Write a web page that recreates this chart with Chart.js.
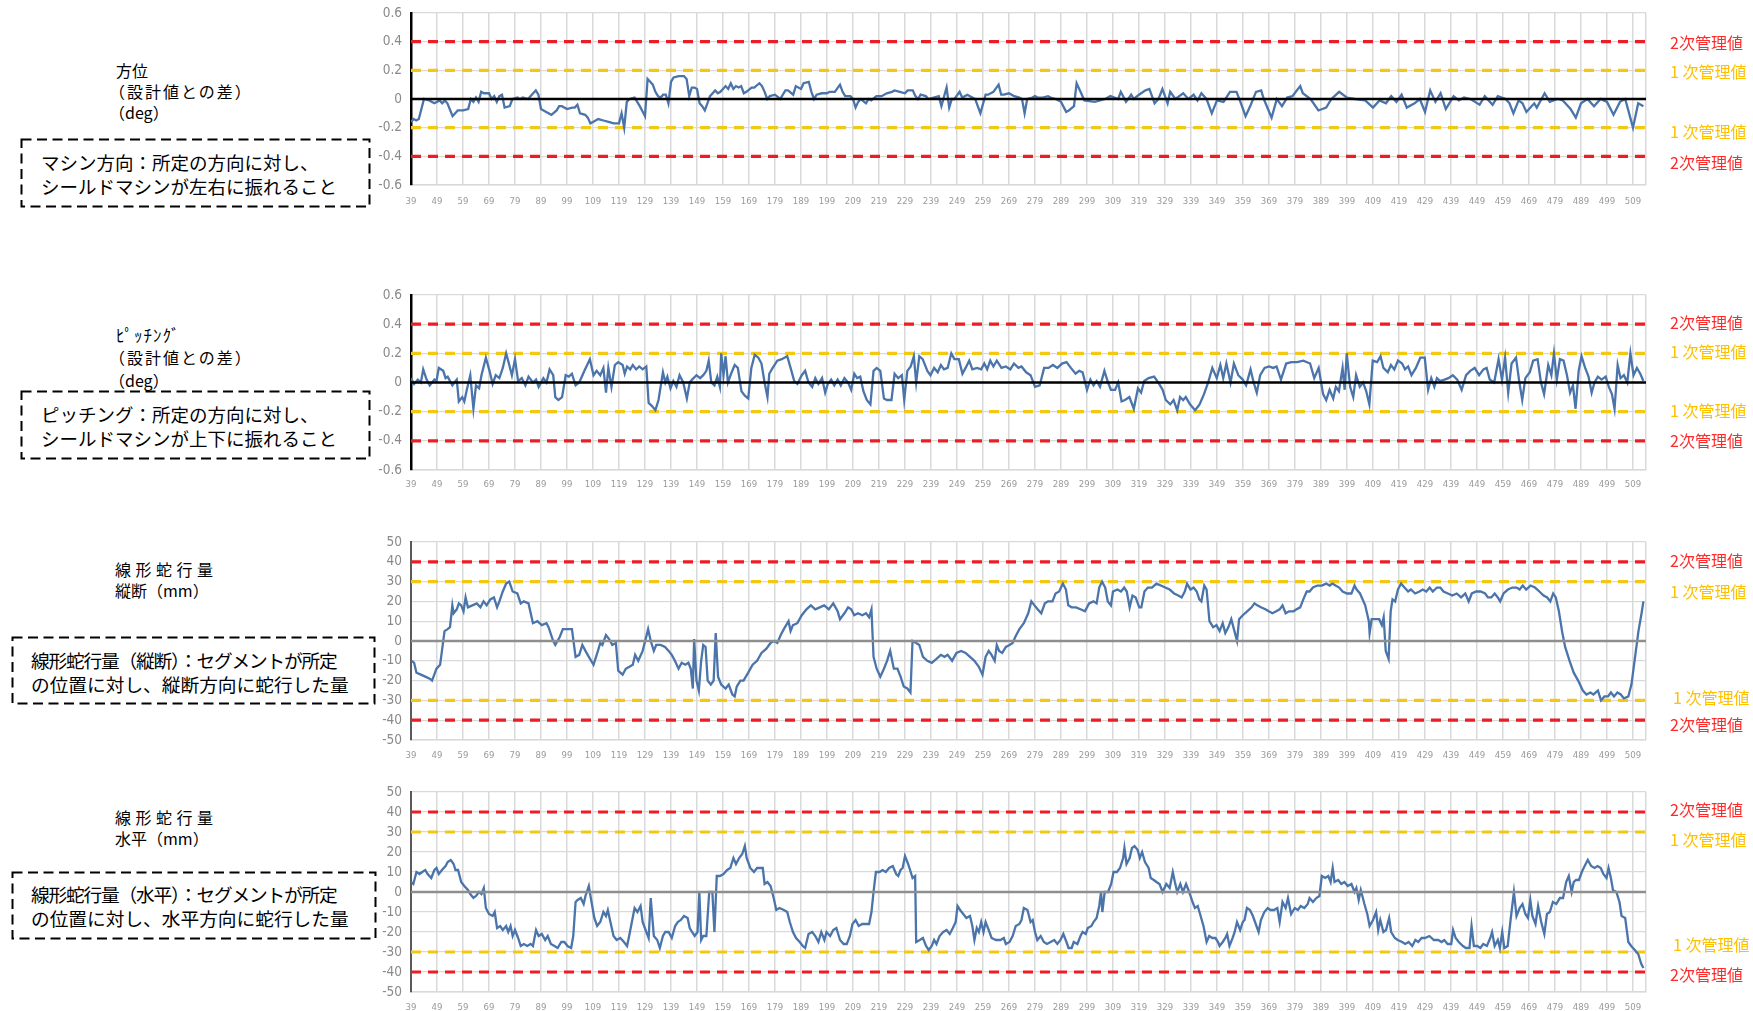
<!DOCTYPE html>
<html><head><meta charset="utf-8">
<script src="https://cdn.jsdelivr.net/npm/chart.js@4.4.0/dist/chart.umd.min.js"></script>
<style>
html,body{margin:0;padding:0;background:#fff;}
body{width:1753px;height:1011px;position:relative;overflow:hidden;font-family:"Noto Sans CJK JP","Noto Sans",sans-serif;color:#000;}
canvas{position:absolute;}
.t{position:absolute;white-space:nowrap;font-size:16px;line-height:20px;height:20px;}
.bx{position:absolute;}
.bt{position:absolute;white-space:nowrap;line-height:24px;height:24px;}
</style></head><body>

<!-- left captions -->
<div class="t" style="left:116px;top:60px;">方位</div>
<div class="t" style="left:109px;top:81px;letter-spacing:2px;">（設計値との差）</div>
<div class="t" style="left:109px;top:102px;">（deg）</div>
<svg class="bx" style="left:20px;top:138px" width="352" height="71"><rect x="1.5" y="1.5" width="348" height="67" fill="none" stroke="#000" stroke-width="2" stroke-dasharray="10,5.5"/></svg>
<div class="bt" style="left:41px;top:150px;font-size:18.5px;">マシン方向：所定の方向に対し、</div>
<div class="bt" style="left:41px;top:174px;font-size:18.5px;">シールドマシンが左右に振れること</div>

<div class="t" style="left:116px;top:325px;font-size:17px;letter-spacing:1px;">ﾋﾟｯﾁﾝｸﾞ</div>
<div class="t" style="left:109px;top:347px;letter-spacing:2px;">（設計値との差）</div>
<div class="t" style="left:109px;top:370px;">（deg）</div>
<svg class="bx" style="left:20px;top:390px" width="352" height="71"><rect x="1.5" y="1.5" width="348" height="67" fill="none" stroke="#000" stroke-width="2" stroke-dasharray="10,5.5"/></svg>
<div class="bt" style="left:41px;top:402px;font-size:18.5px;">ピッチング：所定の方向に対し、</div>
<div class="bt" style="left:41px;top:426px;font-size:18.5px;">シールドマシンが上下に振れること</div>

<div class="t" style="left:115px;top:559px;letter-spacing:4.5px;">線形蛇行量</div>
<div class="t" style="left:115px;top:580px;">縦断（mm）</div>
<svg class="bx" style="left:11px;top:636px" width="366" height="70"><rect x="1.5" y="1.5" width="362" height="66" fill="none" stroke="#000" stroke-width="2" stroke-dasharray="10,5.5"/></svg>
<div class="bt" style="left:31px;top:648px;font-size:18.7px;letter-spacing:-1.2px;">線形蛇行量（縦断）：セグメントが所定</div>
<div class="bt" style="left:31px;top:672px;font-size:18.7px;">の位置に対し、縦断方向に蛇行した量</div>

<div class="t" style="left:115px;top:807px;letter-spacing:4.5px;">線形蛇行量</div>
<div class="t" style="left:115px;top:828px;">水平（mm）</div>
<svg class="bx" style="left:11px;top:871px" width="367" height="70"><rect x="1.5" y="1.5" width="363" height="66" fill="none" stroke="#000" stroke-width="2" stroke-dasharray="10,5.5"/></svg>
<div class="bt" style="left:31px;top:882px;font-size:18.7px;letter-spacing:-1.2px;">線形蛇行量（水平）：セグメントが所定</div>
<div class="bt" style="left:31px;top:906px;font-size:18.7px;">の位置に対し、水平方向に蛇行した量</div>

<canvas id="c0"></canvas><canvas id="c1"></canvas><canvas id="c2"></canvas><canvas id="c3"></canvas>

<script>
// ---------------- data ----------------
const ringTicks = [39,49,59,69,79,89,99,109,119,129,139,149,159,169,179,189,199,209,219,229,239,249,259,269,279,289,299,309,319,329,339,349,359,369,379,389,399,409,419,429,439,449,459,469,479,489,499,509];
const ringRange = [39, 514];
const angleAxis = [-0.6, 0.6, 0.2];
const mmAxis = [-50, 50, 10];
const angleLimits = [0.4, 0.2];   // 2次, 1次
const mmLimits = [40, 30];
const limitNames = ['2次管理値', '1 次管理値'];

// 方位（設計値との差）deg : [ring, value]
const azimuthData = [[39,-0.16],[40,-0.14],[41,-0.15],[42,-0.14],[44,0.0],[46,-0.01],[48,-0.03],[50,-0.01],[51,-0.03],[52,-0.01],[53,-0.03],[55,-0.12],[56,-0.10],[57,-0.08],[59,-0.08],[61,-0.07],[62,0.0],[63,-0.02],[64,0.01],[65,-0.02],[66,0.05],[67,0.04],[69,0.04],[70,0.0],[71,0.02],[72,-0.02],[73,0.02],[74,0.03],[75,-0.06],[77,-0.05],[78,0.0],[80,0.01],[81,0.0],[82,0.01],[84,0.0],[86,0.04],[87,0.06],[88,0.03],[89,-0.07],[91,-0.09],[93,-0.11],[95,-0.08],[96,-0.05],[97,-0.05],[99,-0.07],[101,-0.06],[102,-0.06],[103,-0.04],[104,-0.10],[106,-0.11],[107,-0.13],[108,-0.17],[109,-0.16],[111,-0.14],[113,-0.15],[115,-0.16],[117,-0.17],[119,-0.17],[120,-0.10],[121,-0.20],[122,-0.02],[123,0.0],[125,0.01],[126,-0.02],[127,-0.05],[129,-0.12],[130,0.14],[131,0.12],[132,0.10],[133,0.05],[134,0.02],[135,0.01],[136,0.03],[137,0.03],[138,-0.03],[139,0.12],[140,0.15],[142,0.16],[144,0.16],[145,0.14],[146,0.02],[147,0.08],[148,0.08],[149,0.07],[150,-0.03],[151,-0.05],[152,-0.08],[153,-0.03],[154,0.02],[156,0.06],[157,0.04],[158,0.05],[160,0.09],[161,0.07],[162,0.11],[163,0.07],[164,0.09],[165,0.08],[166,0.09],[167,0.04],[168,0.05],[170,0.08],[171,0.08],[173,0.11],[174,0.09],[175,0.05],[176,0.0],[177,0.02],[179,0.03],[181,0.0],[183,0.06],[184,0.06],[186,0.03],[187,0.09],[189,0.07],[190,0.11],[192,0.12],[193,0.05],[194,0.0],[195,0.03],[197,0.04],[199,0.04],[200,0.05],[202,0.05],[204,0.10],[205,0.05],[206,0.02],[208,0.02],[209,0.0],[210,-0.06],[211,-0.02],[212,0.0],[214,-0.03],[215,0.0],[216,-0.01],[218,0.02],[220,0.02],[222,0.04],[224,0.05],[225,0.06],[227,0.05],[229,0.04],[230,0.06],[232,0.06],[233,0.02],[234,0.0],[235,0.03],[237,0.02],[238,0.0],[240,0.01],[242,0.02],[243,-0.05],[245,0.08],[246,-0.06],[247,0.0],[248,0.0],[250,0.05],[251,0.01],[253,0.03],[254,0.02],[256,0.0],[258,-0.10],[260,0.03],[261,0.03],[263,0.05],[265,0.10],[266,0.03],[267,0.03],[269,0.04],[271,0.02],[273,0.01],[274,0.0],[275,-0.10],[276,0.0],[278,0.01],[279,0.02],[280,0.01],[282,0.01],[284,0.02],[285,0.01],[287,0.0],[289,-0.02],[291,-0.09],[292,-0.08],[294,-0.05],[295,0.11],[296.5,0.05],[298,-0.01],[302,-0.02],[306,0.0],[308,0.02],[311,0.0],[312,0.05],[314,-0.02],[316,0.03],[317,0.0],[319,0.03],[321.5,0.06],[323,0.07],[325,-0.03],[326.5,0.0],[328,0.07],[330,-0.03],[331,0.05],[333,0.0],[336,0.04],[338,0.0],[340,0.03],[341.5,-0.01],[343,0.04],[345,0.0],[347,-0.10],[349,-0.01],[351.5,-0.02],[354,0.05],[356.5,0.05],[358,-0.02],[360,-0.12],[362,-0.04],[364,0.05],[366,0.06],[367,0.0],[370,-0.13],[372,0.0],[374,-0.05],[376,0.01],[378,0.02],[381,0.09],[382,0.04],[385,0.0],[388,-0.08],[391,-0.06],[393,0.0],[396,0.05],[399,0.01],[402,0.0],[406,-0.01],[409,-0.06],[411.5,-0.01],[414,-0.03],[416,0.02],[418,-0.02],[420,0.03],[422,-0.06],[425,-0.03],[427,0.0],[429,-0.09],[431,0.06],[433,-0.02],[435,0.04],[437,-0.07],[440,0.02],[442,-0.01],[444,0.01],[446.5,0.0],[450,-0.04],[452,0.02],[455,-0.04],[457,0.02],[460,0.0],[461.5,-0.03],[463,-0.10],[465,-0.01],[466.5,-0.03],[468,-0.09],[471,-0.03],[472,-0.06],[475,0.04],[477,-0.02],[480,0.0],[482,-0.01],[485,-0.07],[487,-0.13],[489,-0.03],[491.5,0.0],[494,-0.05],[496.5,0.0],[499,-0.02],[501.5,-0.11],[504,-0.02],[506,0.0],[509,-0.20],[511,-0.03],[513,-0.05]];

// ピッチング（設計値との差）deg
const pitchData = [[39,0.03],[40.2,-0.01],[41.6,0.02],[42.8,0.0],[43.7,0.09],[45,0.02],[46.2,-0.02],[48,0.02],[48.8,0.01],[49.7,0.1],[51.4,0.08],[52.3,0.03],[53.1,0.04],[54.9,-0.02],[55.7,0.0],[56.6,0.02],[57.4,-0.13],[58.7,-0.1],[59.5,-0.13],[60.6,-0.04],[61.8,0.05],[63,-0.18],[64,-0.02],[65.2,-0.04],[66.1,0.05],[67.8,0.17],[69.2,0.08],[70.4,-0.01],[71.6,0.05],[73,0.03],[74.3,0.1],[75.6,0.2],[76.8,0.12],[77.8,0.05],[79,0.16],[80.2,0.01],[81.6,0.03],[83,-0.02],[84.2,0.04],[85.9,0.0],[87.1,0.02],[88.1,-0.03],[89.9,0.03],[91.1,0.0],[92.3,0.09],[93.7,0.05],[94.5,-0.1],[95.7,-0.12],[97.1,-0.1],[98.5,0.05],[99.7,0.04],[100.9,0.06],[102.3,-0.02],[103.7,0.0],[105.7,0.08],[107.8,0.16],[109.2,0.05],[110.4,0.08],[111.8,0.05],[113,0.1],[114,-0.07],[114.9,0.1],[116.1,-0.03],[117.4,0.12],[118.7,0.14],[120.4,0.12],[121.2,0.06],[122.1,0.11],[123.3,0.09],[124.3,0.12],[125.6,0.09],[126.8,0.11],[128.1,0.09],[129.5,0.11],[130.4,-0.14],[131.6,-0.16],[133,-0.19],[134.2,-0.12],[135.9,0.07],[136.8,0.0],[137.6,0.04],[138.8,-0.04],[139.9,0.01],[141.1,-0.03],[142.3,0.05],[143.7,0.0],[145.1,-0.11],[146.2,0.0],[147.1,0.02],[148.8,0.05],[150.2,0.03],[151.4,0.05],[152.6,0.08],[153.5,0.15],[154.5,0.0],[155.7,-0.02],[156.8,0.04],[157.8,-0.03],[158.3,0.2],[159.2,0.05],[160,0.18],[160.9,0.0],[162.1,0.06],[163.5,0.12],[164.7,0.1],[166.1,-0.06],[167.4,-0.09],[168.7,-0.11],[169.9,0.1],[171.2,0.19],[172.6,0.17],[173.8,0.13],[175,0.0],[176.1,-0.1],[176.8,0.06],[178.1,0.1],[179.9,0.15],[181.6,0.16],[183.7,0.18],[185,0.1],[186.4,0.01],[187.6,-0.01],[189.3,0.05],[190.6,0.08],[191.9,0.0],[193.3,-0.03],[194.5,0.03],[195.7,-0.01],[197.1,0.03],[198.3,-0.07],[199.3,-0.01],[200.6,0.02],[201.8,-0.02],[203.1,0.02],[204.3,-0.02],[205.7,0.03],[207.1,0.0],[208.3,-0.05],[209.5,0.06],[210.6,0.03],[211.8,0.04],[213,-0.06],[214.3,-0.12],[215.7,-0.15],[216.9,0.08],[218.1,0.1],[219.5,0.08],[220.9,-0.11],[222.1,-0.12],[223.8,-0.12],[225,0.06],[226.4,0.03],[227.8,0.05],[228.7,-0.12],[229.9,0.08],[231.2,0.11],[232.4,0.18],[233.3,0.0],[234.5,0.18],[235.8,0.16],[237.6,0.08],[238.8,0.05],[240.2,0.1],[241.6,0.07],[242.8,0.12],[244,0.09],[245.4,0.1],[246.8,0.2],[248,0.16],[249.7,0.16],[251.1,0.06],[252.3,0.1],[253.7,0.15],[254.9,0.09],[256.7,0.1],[258.3,0.09],[259.5,0.13],[260.6,0.09],[261.8,0.15],[263,0.11],[264.3,0.15],[266.1,0.1],[267.8,0.11],[269.5,0.09],[270.9,0.13],[272.6,0.1],[273.8,0.11],[275.6,0.07],[277.3,0.05],[279,-0.03],[280.8,-0.02],[282.5,0.1],[284.2,0.1],[285.9,0.12],[287.6,0.1],[289.4,0.13],[291.1,0.14],[292.8,0.1],[294.6,0.06],[296,0.08],[297.3,0.07],[299,-0.05],[300.3,0.02],[301.5,-0.02],[302.7,0.01],[304,-0.03],[305.7,0.08],[307.1,0.0],[308.2,-0.05],[309.8,-0.05],[311,0.0],[312.3,-0.13],[313.6,-0.12],[315.3,-0.1],[317,-0.18],[318.6,-0.04],[319.8,-0.07],[321,0.01],[322.7,0.03],[324.8,0.04],[326.4,0.0],[328.1,-0.05],[329.3,-0.12],[331,-0.15],[332.3,-0.12],[333.7,-0.19],[334.8,-0.1],[336,-0.12],[337,-0.1],[338.6,-0.15],[340.6,-0.19],[342.3,-0.15],[344,-0.08],[345.6,0.0],[347.2,0.1],[348.9,0.03],[350.3,0.12],[351.4,0.03],[352.6,0.13],[354.2,0.0],[355.5,0.13],[357.2,0.05],[358.9,0.02],[360.2,-0.02],[361.9,0.09],[363.1,0.0],[364.3,-0.07],[365.6,0.05],[367.3,0.1],[369,0.11],[370.6,0.1],[371.9,0.11],[373.6,0.02],[375.6,0.13],[377.6,0.14],[379.8,0.14],[382.2,0.15],[384.8,0.13],[386.4,0.03],[388.1,0.1],[389.8,-0.08],[391,-0.12],[392.3,-0.05],[393.7,-0.11],[394.7,-0.03],[395.9,-0.06],[397.3,0.1],[398.1,-0.05],[398.9,0.2],[400.2,-0.03],[401.4,-0.1],[402.5,0.05],[403.9,-0.03],[405.2,0.0],[406.4,-0.06],[407.6,-0.15],[408.9,0.15],[410.6,0.14],[411.9,0.18],[413,0.1],[414.7,0.07],[415.9,0.12],[417.2,0.09],[418.6,0.15],[420.2,0.13],[421.3,0.09],[422.5,0.11],[423.8,0.05],[425.5,0.1],[427.2,0.17],[428.9,0.17],[430.2,-0.05],[431.4,0.03],[432.6,-0.03],[433.6,0.03],[434.8,0.01],[436.5,0.02],[438,0.03],[439.7,0.05],[441.4,0.02],[443.1,-0.05],[444.8,0.05],[446.4,0.08],[448.1,0.1],[449.8,0.05],[451.5,0.09],[452.7,0.1],[453.9,0.02],[455.6,0.0],[457.3,0.16],[458.6,0.02],[459.8,0.17],[461,-0.07],[462.3,0.13],[464,0.17],[465.3,0.0],[466.4,-0.12],[467.6,0.03],[469.3,0.07],[470.6,0.15],[472.3,0.16],[473.6,0.0],[474.8,-0.08],[476.4,0.12],[477.6,0.05],[478.6,0.2],[479.7,0.02],[480.9,0.16],[482.3,0.15],[483.6,0.05],[484.8,-0.07],[485.9,-0.02],[486.9,-0.18],[488.1,0.08],[489.2,0.18],[490.6,0.1],[491.9,0.04],[493.1,-0.07],[494.2,0.0],[495.5,0.04],[496.9,0.02],[498.5,0.04],[499.7,-0.03],[500.9,-0.08],[501.9,-0.18],[503.1,0.12],[504.2,0.03],[505.5,0.05],[506.8,0.0],[508,0.2],[509.2,0.05],[510.5,0.1],[511.8,0.06],[513,0.01]];

// 線形蛇行量 縦断 mm
const verticalData = [[39.3,-10],[40.2,-11],[41.1,-16],[42.8,-17],[44.5,-18],[46.2,-19],[47.1,-20],[48.8,-14],[50.2,-12],[50.9,-5],[51.9,5],[53.1,6],[54,7],[54.9,18],[55.4,14],[56.6,16],[57.4,19],[58.3,18],[59.2,15],[60,22],[60.9,17],[62.6,18],[64.3,19],[65.7,17],[66.9,20],[68.1,18],[69.5,21],[70.9,22],[72.1,17],[73,20],[74.3,25],[75.6,29],[76.8,30],[78.1,25],[79.9,24],[81.2,19],[82.4,20],[84.2,19],[85.9,9],[87.6,10],[89.3,8],[91.1,9],[91.9,7],[93.7,0],[94.5,-2],[96.2,2],[97.4,6],[99.7,6],[100.9,6],[102.3,-8],[103.7,-7],[104.9,-2],[106.1,-5],[107.4,-8],[109.2,-12],[110.9,-5],[111.8,-1],[112.6,-2],[114,3],[115.2,1],[116.4,-2],[117.8,-1],[118.7,-15],[120.4,-17],[121.6,-14],[123,-13],[124.3,-12],[125.2,-7],[126.4,-10],[128.1,-5],[130.2,6],[131.2,0],[132.4,-5],[133.3,-2],[135,-2],[136.7,-3],[138.1,-5],[139.3,-7],[140.5,-10],[141.9,-14],[143.1,-11],[144.5,-12],[145.7,-11],[146.6,-14],[147.4,-24],[147.9,1],[148.8,-20],[149.7,-25],[150.6,-10],[151.4,-2],[152.3,-3],[153.1,-20],[154.3,-22],[155.4,-20],[156.2,4],[157.1,-18],[158.3,-22],[160,-24],[161.2,-22],[162.6,-27],[163.5,-28],[164.3,-23],[165.7,-20],[166.9,-20],[168.7,-16],[170.4,-12],[172.1,-10],[173.8,-6],[175.6,-4],[177.3,-1],[178.5,0],[179.9,-1],[181.2,3],[182.4,6],[184.2,10],[185,5],[185.9,8],[187.6,9],[189.3,13],[191.1,16],[192.8,18],[194.5,16],[196.2,17],[197.9,18],[199.7,16],[201.4,19],[203.1,15],[204,11],[205.7,14],[207.1,17],[208.3,16],[209.5,13],[210.9,14],[212.6,13],[214,14],[215.2,12],[216.1,16],[216.9,-8],[218.1,-14],[219.5,-18],[220.9,-14],[222.1,-10],[223.3,-5],[224.7,-14],[226.1,-14],[227.3,-18],[228.5,-23],[229.9,-24],[231.1,-26],[231.9,0],[233.3,-1],[234.5,-2],[235.9,-8],[237.6,-10],[239.3,-11],[241.1,-9],[242.8,-7],[244.2,-8],[245.4,-7],[247.1,-10],[248.8,-6],[250.6,-5],[252.3,-6],[254,-8],[255.7,-10],[257.4,-13],[258.8,-17],[260,-8],[261.2,-5],[262.3,-7],[263.5,-10],[264.3,-2],[265.2,-5],[266.4,-6],[267.8,-3],[269.2,-2],[270.4,-1],[271.4,2],[273,6],[274.7,9],[276.4,14],[277.6,20],[278.8,18],[280,16],[281.4,14],[282.8,19],[284,20],[285.7,20],[286.9,24],[288.3,25],[289.7,29],[290.9,26],[291.8,18],[293.1,17],[294.8,17],[296.5,16],[298.2,15],[299.8,19],[301.5,20],[302.7,19],[303.7,27],[304.8,30],[306,27],[307,20],[308.2,18],[309,25],[310.7,26],[312.1,25],[313.3,27],[314.3,25],[315.4,17],[316.5,23],[317.7,22],[319.1,17],[319.9,17],[321.1,25],[322.4,27],[324,27],[325.7,29],[327.4,28],[329.1,27],[330.8,26],[332.5,24],[334.1,23],[335.4,22],[336.6,25],[337.5,29],[338.8,26],[340,27],[341.2,25],[342.2,21],[343,20],[344.1,28],[345,26],[346.1,10],[347.5,7],[348.8,8],[350,5],[351.2,9],[352.2,4],[353.4,7],[354.5,11],[355.5,6],[356.7,0],[357.5,11],[358.9,13],[360.6,15],[362.3,17],[363.4,19],[364.5,18],[365.9,17],[367.6,16],[368.9,15],[370.3,14],[371.8,15],[373.1,16],[374.2,18],[375.4,14],[376.7,15],[378.4,15],[379.6,16],[381,17],[382.2,21],[383.5,25],[384.6,25],[385.9,27],[387.6,28],[389.3,28],[391,29],[392.3,28],[393.4,29],[394.6,28],[396,27],[397.3,25],[399,24],[400.7,24],[401.9,28],[402.7,26],[404,24],[406,18],[407.4,10],[407.7,4],[408.5,11],[410.2,11],[411.4,11],[412.4,8],[413.1,12],[413.9,-5],[415,-9],[415.8,15],[416.5,21],[417.5,20],[418.6,26],[419.8,29],[421.1,27],[422.5,25],[423.6,26],[425.2,24],[426.9,25],[428.1,26],[429.5,25],[430.8,27],[432,25],[433.6,27],[434.9,27],[436.1,25],[437.8,24],[439.5,23],[441.2,24],[442.9,22],[444.5,24],[445.8,20],[447,24],[448.7,25],[450.4,25],[452.1,24],[453.2,22],[454.5,22],[455.8,24],[457,22],[457.9,20],[459.2,24],[460.9,26],[462.6,27],[464.2,27],[465.4,26],[466.6,28],[467.9,26],[469.6,28],[471.3,27],[473,25],[474.6,23],[476,22],[477.2,20],[478.3,24],[479.3,22],[480.5,15],[481.7,5],[482.9,-3],[484.6,-10],[486.2,-16],[487.9,-20],[489.7,-25],[491.1,-27],[492.6,-26],[493.8,-27],[495.5,-25],[496.7,-30],[498,-28],[499.4,-28],[500.5,-26],[501.7,-28],[503,-26],[504.3,-27],[505.5,-29],[507.2,-28],[508.4,-22],[509.6,-10],[511.1,5],[512.3,14],[513,20]];

// 線形蛇行量 水平 mm
const horizontalData = [[39,5],[39.9,4],[41.1,10],[42.3,9],[43.3,10],[44.5,11],[45.4,9],[46.8,7],[48,11],[48.8,12],[49.7,9],[50.9,11],[52.3,13],[53.1,15],[54.3,16],[55.4,14],[56.1,11],[57.1,11],[58.3,5],[59.5,3],[60.9,1],[61.8,-1],[63,-3],[64,-2],[65.2,0],[66.1,-1],[67,2],[67.8,-8],[69,-11],[70.4,-12],[71.2,-10],[72.1,-18],[73.3,-17],[74.3,-19],[75.6,-17],[76.4,-20],[77.3,-17],[78.1,-22],[79,-19],[80.2,-23],[81.2,-27],[82.4,-26],[83.7,-27],[85,-26],[85.9,-27],[87.1,-19],[88.1,-22],[89.3,-21],[90.6,-24],[91.6,-22],[92.8,-26],[94.2,-27],[95.4,-28],[96.8,-25],[98,-25],[99.2,-27],[100.6,-28],[101.4,-22],[102.3,-5],[103.1,-4],[104.3,-3],[105.4,-6],[106.1,-2],[107.4,3],[108.3,-4],[109.5,-13],[110.6,-17],[111.8,-15],[113,-10],[114,-12],[114.7,-9],[115.7,-15],[116.9,-22],[118.1,-24],[119.5,-23],[120.9,-25],[122.1,-27],[122.9,-22],[123.8,-16],[125,-8],[126.1,-10],[127.3,-7],[128.1,-15],[129.5,-20],[130.4,-23],[131.2,-3],[132.4,-22],[133.7,-24],[134.7,-28],[135.9,-22],[136.8,-20],[138.1,-20],[139.3,-23],[140.6,-17],[141.6,-15],[142.8,-14],[144,-12],[145.4,-13],[146.2,-18],[147.1,-20],[148.1,-22],[149.2,-20],[149.9,0],[150.6,-24],[151.4,-22],[152.6,-22],[153.7,0],[154.9,0],[155.7,-20],[156.6,8],[157.8,8],[159.2,9],[160.6,11],[161.8,12],[163,17],[164,14],[165.2,17],[166.4,19],[167.4,23],[168.1,17],[169.5,12],[170.9,10],[172.1,12],[173.3,12],[174.3,12],[175,4],[176.1,5],[177.3,3],[178.5,-3],[179.5,-9],[180.7,-8],[182.4,-9],[183.7,-10],[184.7,-15],[185.9,-20],[187.1,-23],[188.5,-25],[189.7,-27],[190.6,-28],[191.9,-21],[193.3,-20],[194.5,-22],[195.7,-25],[196.8,-20],[198,-24],[198.8,-20],[200.2,-22],[201.4,-19],[202.6,-18],[204,-24],[205.4,-26],[206.6,-26],[207.8,-22],[208.8,-16],[210,-14],[211.2,-17],[212.6,-16],[214,-16],[215.2,-16],[216.1,-10],[216.9,0],[217.8,10],[219.2,10],[220.4,11],[221.6,10],[222.9,12],[224.3,13],[225.6,9],[226.4,8],[227.3,11],[228.1,12],[229,18],[230.2,14],[231.2,10],[231.9,7],[232.9,8],[233.3,-25],[234.7,-24],[235.9,-23],[237.1,-27],[238.1,-29],[239.3,-27],[240.2,-24],[241.1,-26],[242.3,-22],[243.7,-20],[245,-19],[246.2,-21],[247.4,-18],[248.5,-15],[249.2,-7],[250.2,-9],[251.4,-11],[252.6,-13],[254,-12],[254.9,-17],[255.7,-24],[256.6,-18],[257.4,-20],[258.3,-15],[259.2,-20],[260,-15],[261.2,-19],[262.3,-23],[264,-24],[265.7,-24],[267,-23],[267.8,-26],[269.2,-25],[270.4,-22],[271.6,-17],[273,-16],[273.8,-14],[274.7,-8],[276.1,-9],[277.3,-15],[278.1,-14],[279,-20],[279.9,-24],[281.2,-22],[282.4,-25],[283.6,-26],[285,-25],[286.4,-24],[287.6,-26],[288.8,-24],[289.9,-21],[291.1,-25],[291.9,-28],[293.1,-28],[293.9,-25],[295.3,-26],[296.5,-22],[297.3,-20],[298.5,-21],[299.3,-18],[300.7,-17],[301.5,-15],[302.7,-13],[303.7,-7],[304.4,0],[304.9,-10],[305.8,0],[307.1,0],[308.3,4],[309.2,10],[310.5,10],[311.7,12],[312.9,17],[313.4,22],[314.2,14],[315.4,17],[316.3,22],[317.3,23],[318.5,21],[319.3,17],[320.2,20],[321.3,15],[322.7,12],[323.5,7],[324.7,6],[325.7,5],[326.9,4],[328.1,0],[329.5,4],[330.8,2],[332,10],[332.8,5],[333.7,0],[334.9,4],[335.9,0],[337.1,4],[338.3,0],[339.6,-5],[340.5,-8],[341.6,-7],[342.7,-12],[343.8,-17],[345,-25],[346,-22],[347.2,-23],[348.4,-23],[349.4,-25],[350,-27],[351.2,-25],[352.2,-23],[352.9,-21],[353.8,-27],[355,-23],[355.8,-20],[356.7,-15],[357.9,-19],[358.9,-15],[359.6,-14],[360.5,-8],[361.7,-9],[362.8,-12],[363.9,-16],[365,-20],[365.9,-14],[367.2,-10],[368.5,-8],[369.5,-9],[370.9,-9],[372.2,-8],[373.1,-15],[374.2,-5],[375.4,-8],[376.3,-3],[377.5,-11],[378.9,-8],[380.1,-9],[381.2,-7],[382.6,-8],[383.9,-6],[384.6,-3],[385.9,-5],[387.2,-3],[388.4,-2],[389.3,8],[390.6,7],[391.8,8],[392.7,5],[393.5,12],[394.2,5],[395.6,6],[396.8,4],[398,5],[399.3,3],[400.7,4],[401.9,0],[402.6,2],[403.5,-4],[404.3,1],[405.7,-6],[406.8,-11],[407.7,-17],[409,-14],[410.2,-10],[411,-19],[411.8,-14],[413,-20],[414,-19],[415.2,-13],[416,-20],[417.4,-23],[418.5,-24],[420.2,-25],[421.4,-26],[422.7,-25],[424.1,-27],[425.3,-24],[426.4,-25],[427.7,-23],[429,-23],[430.7,-22],[432.4,-24],[434.1,-24],[435.4,-25],[436.4,-24],[437.7,-26],[439.1,-26],[439.8,-19],[440.8,-23],[442,-25],[443.6,-27],[444.7,-28],[446.1,-28],[446.9,-17],[447.8,-27],[449.1,-27],[450.3,-28],[451.4,-26],[452.8,-27],[454.1,-23],[454.8,-20],[455.8,-27],[457,-24],[457.8,-28],[458.7,-20],[459.5,-28],[460.8,-27],[462,-13],[463.2,0],[464.2,-12],[465.4,-8],[466.5,-6],[467.6,-11],[468.6,-13],[469.5,-4],[470.3,-12],[471.5,-16],[472.5,-7],[473.7,-15],[474.9,-21],[475.9,-11],[477,-10],[478.2,-5],[479.5,-6],[480.9,-3],[482.1,-3],[483.3,5],[484.3,8],[485.4,0],[486.2,5],[487.1,6],[488.2,6],[489.3,10],[490.4,13],[491.6,16],[492.9,13],[494.2,12],[495.4,13],[496.6,12],[497.6,9],[498.8,7],[499.6,12],[500.5,7],[501.3,1],[502.6,0],[503.8,-5],[504.6,-12],[506,-13],[507.2,-25],[508.3,-27],[509.7,-29],[511,-31],[512.2,-36],[513,-38]];

// ---------------- layout / style ----------------
const panels = [
  {id:'c0', data: azimuthData,    axis: angleAxis, limits: angleLimits, top: 12.5, bottom: 184.5, tickPad: 11, axisColor:'#000', axisW:2.5, zeroColor:'#000', labelDy:[1,1.7,4,6.3], labelDx:[0,0,0,0]},
  {id:'c1', data: pitchData,      axis: angleAxis, limits: angleLimits, top: 294.5, bottom: 469.5, tickPad: 9, axisColor:'#000', axisW:2.5, zeroColor:'#000', labelDy:[-1,-1.3,-0.7,0.3], labelDx:[0,0,0,0]},
  {id:'c2', data: verticalData,   axis: mmAxis,    limits: mmLimits,    top: 542, bottom: 740, tickPad: 10, axisColor:'#5a5a5a', axisW:2, zeroColor:'#8e8e8e', labelDy:[-0.5,10.7,-2.3,5], labelDx:[0,0,3,0]},
  {id:'c3', data: horizontalData, axis: mmAxis,    limits: mmLimits,    top: 792, bottom: 991.5, tickPad: 10, axisColor:'#5a5a5a', axisW:2, zeroColor:'#8e8e8e', labelDy:[-1.7,7.7,-6.7,3.3], labelDx:[0,0,3,0]}
];

const CANVAS_LEFT = 360, PLOT_LEFT = 411, PLOT_RIGHT = 1646, PAD_TOP = 20, XAXIS_H = 24;
const RED = '#ee1c25', YEL = '#f2c811', LINE = '#4a74aa', GRID = '#d9d9d9';
const RED_TXT = '#ff2a2a', YEL_TXT = '#ffc000';

const limitLabelPlugin = {
  id: 'limitLabels',
  afterDraw(chart, args, opts) {
    const ys = chart.scales.y, ctx = chart.ctx;
    ctx.save();
    ctx.font = '16px "Noto Sans CJK JP"';
    ctx.textBaseline = 'middle';
    ctx.textAlign = 'left';
    (opts.items || []).forEach(it => {
      ctx.fillStyle = it.color;
      ctx.fillText(it.text, chart.chartArea.right + 24 + it.dx, ys.getPixelForValue(it.value) + it.dy);
    });
    ctx.restore();
  }
};

const tickFont = '"Liberation Sans Narrow","DejaVu Sans Condensed","Arial Narrow",sans-serif';

panels.forEach(p => {
  const cv = document.getElementById(p.id);
  const h = Math.round(p.bottom - p.top) + PAD_TOP + XAXIS_H;
  const w = 1753 - CANVAS_LEFT;
  cv.width = w; cv.height = h;
  cv.style.left = CANVAS_LEFT + 'px';
  cv.style.top = Math.round(p.top - PAD_TOP) + 'px';
  cv.style.width = w + 'px'; cv.style.height = h + 'px';

  const [second, first] = p.limits;
  const hline = v => [{x: ringRange[0], y: v}, {x: ringRange[1], y: v}];
  const dashed = (v, c) => ({data: hline(v), borderColor: c, borderWidth: 3.2, borderDash: [10, 7], pointRadius: 0, tension: 0});
  const stepDecimals = p.axis[2] < 1 ? 1 : 0;

  new Chart(cv, {
    type: 'line',
    data: {
      datasets: [
        {data: hline(0), borderColor: p.zeroColor, borderWidth: 2.5, pointRadius: 0},
        {data: p.data.map(([x, y]) => ({x, y})), borderColor: LINE, borderWidth: 2.3, pointRadius: 0, tension: 0},
        dashed(second, RED), dashed(-second, RED),
        dashed(first, YEL), dashed(-first, YEL)
      ]
    },
    options: {
      responsive: false, animation: false, devicePixelRatio: 1,
      layout: {padding: {top: PAD_TOP, right: 1753 - PLOT_RIGHT, left: 0, bottom: 0}},
      plugins: {
        legend: {display: false}, tooltip: {enabled: false},
        limitLabels: {items: [
          {value: second,  text: limitNames[0], color: RED_TXT, dy: p.labelDy[0], dx: p.labelDx[0]},
          {value: first,   text: limitNames[1], color: YEL_TXT, dy: p.labelDy[1], dx: p.labelDx[1]},
          {value: -first,  text: limitNames[1], color: YEL_TXT, dy: p.labelDy[2], dx: p.labelDx[2]},
          {value: -second, text: limitNames[0], color: RED_TXT, dy: p.labelDy[3], dx: p.labelDx[3]}
        ]}
      },
      scales: {
        x: {
          type: 'linear', min: ringRange[0], max: ringRange[1],
          afterBuildTicks: s => { s.ticks = ringTicks.map(v => ({value: v})).concat([{value: ringRange[1]}]); },
          afterFit: s => { s.height = XAXIS_H; },
          ticks: {autoSkip: false, maxRotation: 0, padding: p.tickPad, color: '#9a9a9a',
                  font: {family: tickFont, size: 9.5},
                  callback: v => ringTicks.includes(v) ? String(v) : ''},
          grid: {color: GRID, lineWidth: 1.5, drawTicks: false},
          border: {color: GRID, width: 1.5}
        },
        y: {
          min: p.axis[0], max: p.axis[1],
          afterBuildTicks: s => {
            const t = [];
            for (let v = p.axis[0]; v <= p.axis[1] + 1e-9; v += p.axis[2]) t.push({value: Math.round(v * 10) / 10});
            s.ticks = t;
          },
          afterFit: s => { s.width = PLOT_LEFT - CANVAS_LEFT; },
          ticks: {autoSkip: false, padding: 9, color: '#8a8a8a', font: {family: tickFont, size: 13.5},
                  callback: v => Math.abs(v) < 1e-9 ? '0' : v.toFixed(stepDecimals)},
          grid: {color: GRID, lineWidth: 1.2, drawTicks: false},
          border: {color: p.axisColor, width: p.axisW}
        }
      }
    },
    plugins: [limitLabelPlugin]
  });
});
</script>
</body></html>
